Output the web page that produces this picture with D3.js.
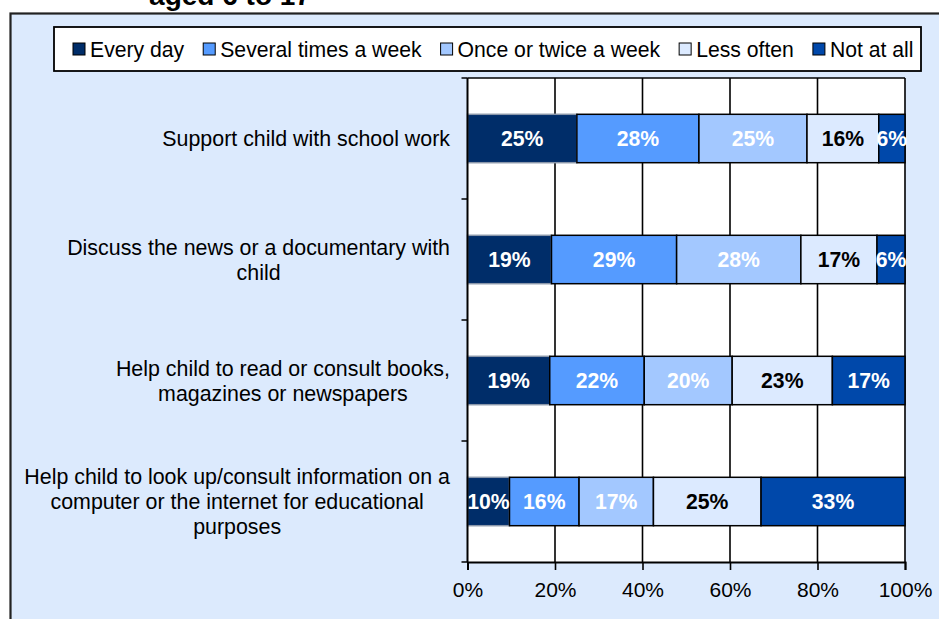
<!DOCTYPE html>
<html>
<head>
<meta charset="utf-8">
<script src="https://cdn.jsdelivr.net/npm/d3@7"></script>
<style>
  html, body { margin: 0; padding: 0; background: #ffffff; }
  svg { display: block; font-family: "Liberation Sans", Arial, sans-serif; }
</style>
</head>
<body>
<svg id="chart" width="939" height="619"></svg>
<script>
// Activities, top to bottom
const categories = [
  "Support child with school work",
  "Discuss the news or a documentary with child",
  "Help child to read or consult books, magazines or newspapers",
  "Help child to look up/consult information on a computer or the internet for educational purposes"
];

// Frequency series (percent of parents), one value per activity
const seriesNames = ["Every day", "Several times a week", "Once or twice a week", "Less often", "Not at all"];
const everyDay          = [25.0, 19.2, 18.8,  9.6];
const severalTimesAWeek = [27.9, 28.6, 21.6, 15.9];
const onceOrTwiceAWeek  = [24.7, 28.4, 20.1, 17.0];
const lessOften         = [16.4, 17.4, 22.9, 24.6];
const notAtAll          = [ 6.0,  6.4, 16.6, 32.9];

const xTicks = [0, 20, 40, 60, 80, 100];

const seriesColors = ["#002D69", "#559BFF", "#A3C8FF", "#DCEAFF", "#0048AA"];
const labelColors  = ["#ffffff", "#ffffff", "#ffffff", "#000000", "#ffffff"];

const seriesValues = [everyDay, severalTimesAWeek, onceOrTwiceAWeek, lessOften, notAtAll];
const rows = categories.map((c, i) => {
  const r = { category: c };
  seriesNames.forEach((s, j) => { r[s] = seriesValues[j][i]; });
  return r;
});

const svg = d3.select("#chart");
const W = 939, H = 619;
const plot = { left: 467.5, right: 905, top: 78, bottom: 562 };

// Outer chart frame
svg.append("rect")
  .attr("x", 10.5).attr("y", 13.5)
  .attr("width", W + 10).attr("height", H + 10)
  .attr("fill", "#DCEAFD")
  .attr("stroke", "#222").attr("stroke-width", 2.2);

// Title (second line, partially above the frame)
svg.append("text")
  .attr("x", 230).attr("y", 5)
  .attr("text-anchor", "middle")
  .attr("font-weight", "bold")
  .attr("font-size", 28)
  .attr("fill", "#000")
  .text("aged 6 to 17");

const x = d3.scaleLinear().domain([0, 100]).range([plot.left, plot.right]);
const y = d3.scaleBand().domain(categories).range([plot.top, plot.bottom])
  .paddingInner(0.6).paddingOuter(0.3);

// Plot area
svg.append("rect")
  .attr("x", plot.left).attr("y", plot.top)
  .attr("width", plot.right - plot.left).attr("height", plot.bottom - plot.top)
  .attr("fill", "#ffffff");

// Vertical gridlines
svg.append("g")
  .selectAll("line")
  .data(xTicks.filter(t => t > 0))
  .join("line")
  .attr("x1", d => x(d)).attr("x2", d => x(d))
  .attr("y1", plot.top).attr("y2", plot.bottom)
  .attr("stroke", "#000").attr("stroke-width", 1.6);

svg.append("line")
  .attr("x1", plot.left).attr("x2", plot.right)
  .attr("y1", plot.top).attr("y2", plot.top)
  .attr("stroke", "#000").attr("stroke-width", 1.4);

// Stacked bars
const stack = d3.stack().keys(seriesNames);
const layers = stack(rows);

const layerG = svg.append("g").selectAll("g")
  .data(layers)
  .join("g")
  .attr("fill", (d, i) => seriesColors[i])
  .attr("stroke", (d, i) => i === 0 ? "#8a97aa" : "#000");

layerG.selectAll("rect")
  .data(d => d)
  .join("rect")
  .attr("x", d => x(d[0]))
  .attr("y", d => y(d.data.category))
  .attr("width", d => x(d[1]) - x(d[0]))
  .attr("height", y.bandwidth())
  .attr("stroke-width", 1.5);

// Value labels
layers.forEach((layer, i) => {
  svg.append("g").selectAll("text")
    .data(layer)
    .join("text")
    .attr("x", d => (x(d[0]) + x(d[1])) / 2)
    .attr("y", d => y(d.data.category) + y.bandwidth() / 2)
    .attr("dy", "0.37em")
    .attr("text-anchor", "middle")
    .attr("font-weight", "bold")
    .attr("font-size", 21.2)
    .attr("fill", labelColors[i])
    .text(d => Math.round(d[1] - d[0]) + "%");
});

// X axis
const xAxis = d3.axisBottom(x)
  .tickValues(xTicks)
  .tickFormat(d => d + "%")
  .tickSize(8)
  .tickPadding(12);
const gx = svg.append("g")
  .attr("transform", `translate(0,${plot.bottom})`)
  .call(xAxis);
gx.select(".domain").attr("stroke", "#000").attr("stroke-width", 2);
gx.selectAll(".tick line").attr("stroke", "#000").attr("stroke-width", 1.6);
gx.selectAll(".tick text")
  .attr("font-size", 21)
  .attr("font-family", "Liberation Sans, Arial, sans-serif")
  .attr("fill", "#000");

// Y axis line and boundary ticks
svg.append("line")
  .attr("x1", plot.left).attr("x2", plot.left)
  .attr("y1", plot.top).attr("y2", plot.bottom)
  .attr("stroke", "#000").attr("stroke-width", 2);

const boundaries = d3.range(categories.length + 1)
  .map(i => plot.top + i * y.step());
svg.append("g").selectAll("line")
  .data(boundaries)
  .join("line")
  .attr("x1", plot.left - 6).attr("x2", plot.left)
  .attr("y1", d => d).attr("y2", d => d)
  .attr("stroke", "#000").attr("stroke-width", 1.5);

// Category labels: wrapped, lines centred within a right-aligned block
const catFont = 21.4, lineH = 25, maxW = 429, labelRight = 450;
const measurer = svg.append("text").attr("font-size", catFont).attr("visibility", "hidden");
function measure(s) { measurer.text(s); return measurer.node().getComputedTextLength(); }
function wrap(s) {
  const words = s.split(" ");
  const lines = [];
  let cur = "";
  words.forEach(w => {
    const t = cur ? cur + " " + w : w;
    if (cur && measure(t) > maxW) { lines.push(cur); cur = w; } else { cur = t; }
  });
  if (cur) lines.push(cur);
  return lines;
}

categories.forEach(c => {
  const lines = wrap(c);
  const blockW = d3.max(lines, measure);
  const cx = labelRight - blockW / 2;
  const cy = y(c) + y.bandwidth() / 2;
  const t = svg.append("text")
    .attr("text-anchor", "middle")
    .attr("font-size", catFont)
    .attr("fill", "#000");
  lines.forEach((ln, k) => {
    t.append("tspan")
      .attr("x", cx)
      .attr("y", cy + (k - (lines.length - 1) / 2) * lineH)
      .attr("dy", "0.36em")
      .text(ln);
  });
});
measurer.remove();

// Legend
const legend = { x: 54, y: 27, w: 867, h: 44 };
svg.append("rect")
  .attr("x", legend.x).attr("y", legend.y)
  .attr("width", legend.w).attr("height", legend.h)
  .attr("fill", "#ffffff")
  .attr("stroke", "#000").attr("stroke-width", 1.8);

const lg = svg.append("g").attr("font-size", 21.2);
let lx = 73;
const ly = legend.y + legend.h / 2;
seriesNames.forEach((s, i) => {
  lg.append("rect")
    .attr("x", lx).attr("y", ly - 6)
    .attr("width", 12).attr("height", 12)
    .attr("fill", seriesColors[i])
    .attr("stroke", "#000").attr("stroke-width", 1);
  const t = lg.append("text")
    .attr("x", lx + 17).attr("y", ly)
    .attr("dy", "0.36em")
    .attr("fill", "#000")
    .text(s);
  lx += 17 + t.node().getComputedTextLength() + 19;
});
</script>
</body>
</html>
